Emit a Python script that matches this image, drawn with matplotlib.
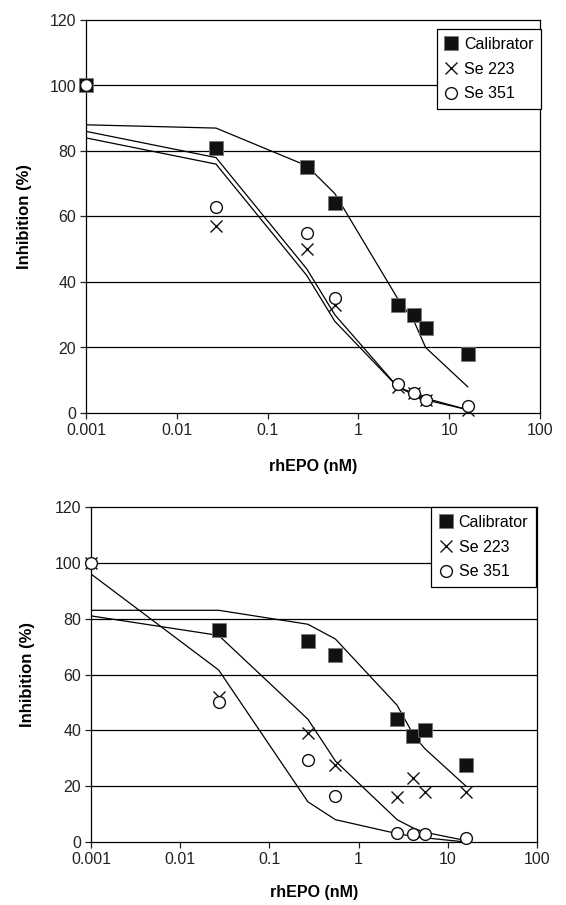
import matplotlib
matplotlib.use('Agg')
import matplotlib.pyplot as plt

plt.rcParams['font.family'] = ['Liberation Sans', 'DejaVu Sans']

# rhEPO concentrations (nM)
dose = [0.001, 0.027, 0.27, 0.55, 2.7, 4.1, 5.5, 16]

# top panel - measured inhibition (%)
top_cal = [100, 81, 75, 64, 33, 30, 26, 18]
top_223 = [100, 57, 50, 33, 8, 6, 4, 1]
top_351 = [100, 63, 55, 35, 9, 6, 4, 2]
# top panel - fitted curves
top_cal_fit = [88, 87, 75.5, 67, 35, 28, 20, 8]
top_223_fit = [86, 78, 44, 30, 8, 6, 4.5, 1]
top_351_fit = [84, 76, 42, 28, 8, 5.5, 4, 1]

# bottom panel - measured inhibition (%)
bot_dose_cal = [0.027, 0.27, 0.55, 2.7, 4.1, 5.5, 16]
bot_cal = [76, 72, 67, 44, 38, 40, 27.5]
bot_223 = [100, 52, 39, 27.5, 16, 23, 18, 18]
bot_351 = [100, 50, 29.5, 16.5, 3.2, 3, 3, 1.5]
# bottom panel - fitted curves
bot_cal_fit = [83, 83, 78, 72.7, 49, 38.5, 33.5, 20]
bot_223_fit = [81, 74, 44, 29, 8, 5, 3.5, 0.5]
bot_351_fit = [96, 61.6, 14.4, 8, 3, 2, 1.5, 0]

yticks = [0, 20, 40, 60, 80, 100, 120]
xticks = [0.001, 0.01, 0.1, 1, 10, 100]
xticklabels = ['0.001', '0.01', '0.1', '1', '10', '100']

fig = plt.figure(figsize=(5.66, 9.05), dpi=100)
ax1 = fig.add_axes([86/566, 1-413/905, 454/566, 393/905])
ax2 = fig.add_axes([91/566, 1-842/905, 446/566, 335/905])


def panel(ax, cal_x, cal, s223, s351, fits, leg_anchor):
    for f in fits:
        ax.plot(dose, f, color='black', lw=0.9, zorder=2)
    ax.plot(cal_x, cal, ls='none', marker='s', ms=10, mfc='#111111',
            mec='#777777', mew=0.6, label='Calibrator', zorder=3, clip_on=False)
    ax.plot(dose, s223, ls='none', marker='x', ms=8.5, mec='#111111',
            mew=1.0, label='Se 223', zorder=4, clip_on=False)
    ax.plot(dose, s351, ls='none', marker='o', ms=8.5, mfc='white',
            mec='#111111', mew=1.0, label='Se 351', zorder=5, clip_on=False)

    ax.set_xscale('log')
    ax.set_xlim(0.001, 100)
    ax.set_ylim(0, 120)
    ax.set_xticks(xticks)
    ax.set_xticklabels(xticklabels)
    ax.minorticks_off()
    ax.set_yticks(yticks)
    for v in yticks[1:-1]:
        ax.axhline(v, color='black', lw=0.9, zorder=1)
    ax.tick_params(direction='out', length=4, width=0.9, labelsize=11.5,
                   colors='#222222', pad=3)
    for sp in ax.spines.values():
        sp.set_linewidth(0.9)
    ax.set_xlabel('rhEPO (nM)', fontsize=11.5, fontweight='bold')
    ax.set_ylabel('Inhibition (%)', fontsize=12, fontweight='bold')
    leg = ax.legend(loc='upper right', bbox_to_anchor=leg_anchor, fontsize=11.5,
                    frameon=True, fancybox=False, edgecolor='black',
                    framealpha=1, handlelength=0.8, handletextpad=0.4,
                    labelspacing=0.6, borderpad=0.5, borderaxespad=0)
    leg.get_frame().set_linewidth(0.9)


panel(ax1, dose, top_cal, top_223, top_351,
      [top_cal_fit, top_223_fit, top_351_fit], (1.003, 0.977))
ax1.yaxis.set_label_coords(-54/454, 0.5)
ax1.xaxis.set_label_coords(0.5, -46/393)

panel(ax2, bot_dose_cal, bot_cal, bot_223, bot_351,
      [bot_cal_fit, bot_223_fit, bot_351_fit], (0.998, 1.0))
ax2.yaxis.set_label_coords(-56/446, 0.5)
ax2.xaxis.set_label_coords(0.5, -43/335)

fig.savefig('out.png', dpi=100)
